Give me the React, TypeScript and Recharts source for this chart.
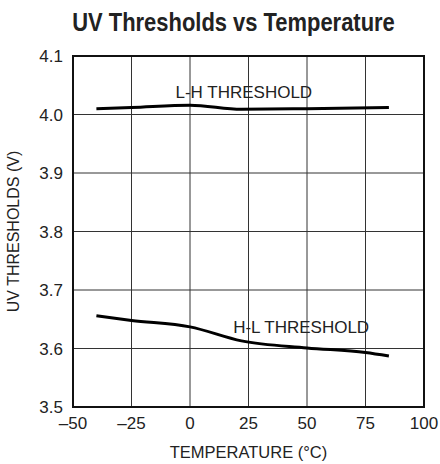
import React from 'react';
import {
  LineChart,
  Line,
  XAxis,
  YAxis,
  CartesianGrid,
  ReferenceArea,
  ReferenceDot,
} from 'recharts';

document.body.style.margin = '0';

const FONT = '"Liberation Sans Narrow", "Liberation Sans", Arial, sans-serif';

const lhTemps = [-40, -25, 0, 22, 50, 85];
const lhVolts = [4.01, 4.012, 4.016, 4.009, 4.01, 4.012];

const hlTemps = [-40, -25, 0, 22, 50, 75, 85];
const hlVolts = [3.656, 3.648, 3.637, 3.613, 3.601, 3.593, 3.587];

const xTicks = [-50, -25, 0, 25, 50, 75, 100];
const yTicks = [3.5, 3.6, 3.7, 3.8, 3.9, 4.0, 4.1];

const lhData = lhTemps.map((t, i) => ({ temp: t, v: lhVolts[i] }));
const hlData = hlTemps.map((t, i) => ({ temp: t, v: hlVolts[i] }));

const fmtX = (v: number) => (v < 0 ? '\u2013' + Math.abs(v) : String(v));

export default function App() {
  return (
    <div style={{ width: 440, height: 464, position: 'relative', background: '#fff' }}>
      <div
        style={{
          position: 'absolute',
          top: 7,
          left: 0,
          width: 467,
          textAlign: 'center',
          fontFamily: FONT,
          fontWeight: 'bold',
          fontSize: 25.5,
          lineHeight: '30px',
          color: '#222',
          transform: 'scaleX(0.86)',
          transformOrigin: '233.5px 50%',
        }}
      >
        UV Thresholds vs Temperature
      </div>
      <LineChart width={440} height={464} margin={{ top: 56, right: 16, left: 0, bottom: 0 }}>
        <CartesianGrid stroke="#333" strokeWidth={1} />
        <XAxis
          type="number"
          dataKey="temp"
          domain={[-50, 100]}
          ticks={xTicks}
          tickFormatter={fmtX}
          axisLine={false}
          tickLine={false}
          height={57}
          tick={{ fill: '#222', fontSize: 17, fontFamily: FONT }}
          tickMargin={4}
          label={{
            value: 'TEMPERATURE (°C)',
            position: 'insideBottom',
            offset: 6,
            fill: '#222',
            fontSize: 16.5,
            fontFamily: FONT,
          }}
        />
        <YAxis
          type="number"
          domain={[3.5, 4.1]}
          ticks={yTicks}
          tickFormatter={(v: number) => v.toFixed(1)}
          axisLine={false}
          tickLine={false}
          width={73}
          tick={{ fill: '#222', fontSize: 17, fontFamily: FONT }}
          tickMargin={4}
          label={{
            value: 'UV THRESHOLDS (V)',
            angle: -90,
            position: 'insideLeft',
            offset: 13,
            style: { textAnchor: 'middle' },
            fill: '#222',
            fontSize: 16,
            fontFamily: FONT,
          }}
        />
        <ReferenceArea x1={-50} x2={100} y1={3.5} y2={4.1} fill="none" stroke="#111" strokeWidth={2} />
        <Line
          data={lhData}
          dataKey="v"
          type="monotone"
          stroke="#000"
          strokeWidth={3}
          dot={false}
          isAnimationActive={false}
        />
        <Line
          data={hlData}
          dataKey="v"
          type="monotone"
          stroke="#000"
          strokeWidth={3}
          dot={false}
          isAnimationActive={false}
        />
        <ReferenceDot
          x={23}
          y={4.038}
          r={0}
          stroke="none"
          label={{ value: 'L-H THRESHOLD', fill: '#222', fontSize: 17, fontFamily: FONT }}
        />
        <ReferenceDot
          x={47.5}
          y={3.637}
          r={0}
          stroke="none"
          label={{ value: 'H-L THRESHOLD', fill: '#222', fontSize: 17, fontFamily: FONT }}
        />
      </LineChart>
    </div>
  );
}
